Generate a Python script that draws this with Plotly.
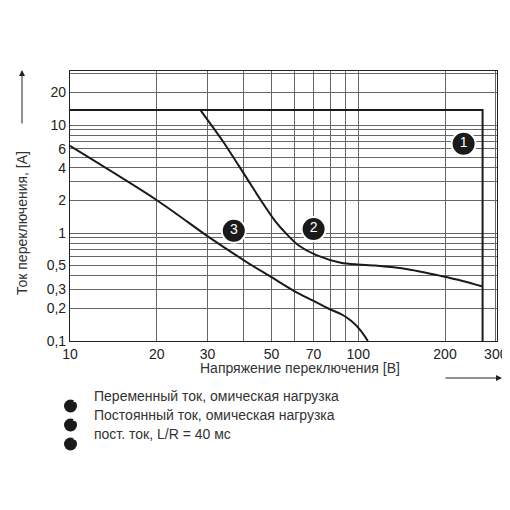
import plotly.graph_objects as go

# Data
c1_v = [10, 270, 270]
c1_i = [13.8, 13.8, 0.1]
c2_v = [28.3, 34, 40.5, 46, 51.5, 57, 62, 72, 87, 100, 114.5, 150, 194, 230, 270]
c2_i = [13.8, 7.0, 3.4, 2.0, 1.29, 0.95, 0.77, 0.62, 0.53, 0.51, 0.50, 0.46, 0.40, 0.36, 0.32]
c3_v = [10, 20.2, 30.6, 40.5, 50, 60, 70, 78.7, 88, 94.7, 102, 108]
c3_i = [6.4, 1.98, 0.9, 0.55, 0.39, 0.29, 0.235, 0.2, 0.175, 0.153, 0.125, 0.1]
badge_v = [232, 70, 37]
badge_i = [6.7, 1.09, 1.05]
badge_txt = ["1", "2", "3"]
x_grid = [10, 20, 30, 40, 50, 60, 70, 80, 90, 100, 200, 300]
x_lab = {10: "10", 20: "20", 30: "30", 50: "50", 70: "70", 100: "100", 200: "200", 300: "300"}
y_grid = [0.1, 0.2, 0.3, 0.4, 0.5, 0.6, 0.7, 0.8, 0.9, 1, 2, 3, 4, 5, 6, 7, 8, 9, 10, 20, 30]
y_lab = {0.1: "0,1", 0.2: "0,2", 0.3: "0,3", 0.5: "0,5", 1: "1", 2: "2", 4: "4", 6: "6", 10: "10", 20: "20"}
legend_items = ["Переменный ток, омическая нагрузка",
                "Постоянный ток, омическая нагрузка",
                "пост. ток, L/R = 40 мс"]

FONT = "Liberation Sans"
fig = go.Figure()
for v, i in [(c1_v, c1_i), (c2_v, c2_i), (c3_v, c3_i)]:
    fig.add_trace(go.Scatter(x=v, y=i, mode="lines", line=dict(color="#1a1a1a", width=2, shape="spline" if len(v) > 3 else "linear", smoothing=0.8), hoverinfo="skip"))
fig.add_trace(go.Scatter(x=badge_v, y=badge_i, mode="markers+text", text=badge_txt,
                         marker=dict(size=24, color="#1a1a1a", line=dict(color="white", width=2)),
                         textfont=dict(color="white", size=14, family=FONT), textposition="middle center"))

fig.update_layout(
    width=510, height=510, showlegend=False, plot_bgcolor="white", paper_bgcolor="white",
    margin=dict(l=62, r=21, t=63, b=177),
    font=dict(family=FONT, color="#222"),
    xaxis=dict(type="log", range=[1, 2.4814], tickvals=x_grid, ticktext=[x_lab.get(v, "") for v in x_grid],
               showgrid=True, gridcolor="#666", gridwidth=0.8, showline=True, linecolor="#222", mirror=True,
               linewidth=1.2, ticks="", tickfont=dict(size=14, family=FONT, color="#222"), zeroline=False,
               automargin=False),
    yaxis=dict(type="log", range=[-1, 1.5], tickvals=y_grid, ticktext=[y_lab.get(v, "") for v in y_grid],
               showgrid=True, gridcolor="#666", gridwidth=0.8, showline=True, linecolor="#222", mirror=True,
               linewidth=1.2, ticks="", tickfont=dict(size=14, family=FONT, color="#222"), zeroline=False,
               automargin=False),
)

def px(x): return (x - 62) / 427
def py(y): return (333 - y) / 270

ann = []
ann.append(dict(xref="paper", yref="paper", x=px(14), y=py(215), text="Ток переключения, [A]", textangle=-90,
                showarrow=False, font=dict(size=14, family=FONT, color="#333"), xanchor="center", yanchor="middle"))
ann.append(dict(xref="paper", yref="paper", x=px(14), y=py(62), ax=0, ay=55, showarrow=True,
                arrowhead=2, arrowsize=1.2, arrowwidth=1, arrowcolor="#222", text=""))
ann.append(dict(xref="paper", yref="paper", x=px(292), y=py(370), text="Напряжение переключения [B]",
                showarrow=False, font=dict(size=14, family=FONT, color="#333")))
ann.append(dict(xref="paper", yref="paper", x=px(494), y=py(370), ax=-58, ay=0, showarrow=True,
                arrowhead=2, arrowsize=1.2, arrowwidth=1, arrowcolor="#222", text=""))
shapes = []
for k, t in enumerate(legend_items):
    yc = 398 + k * 19
    shapes.append(dict(type="circle", xref="paper", yref="paper", x0=px(56), x1=px(69), y0=py(yc + 6.5), y1=py(yc - 6.5),
                       fillcolor="#1a1a1a", line=dict(width=0), layer="below"))
    ann.append(dict(xref="paper", yref="paper", x=px(62.5), y=py(yc), text="<b>%d</b>" % (k + 1), showarrow=False,
                    font=dict(size=9, color="white", family=FONT)))
    ann.append(dict(xref="paper", yref="paper", x=px(84), y=py(yc), text=t, showarrow=False, xanchor="left",
                    font=dict(size=14, family=FONT, color="#333")))
fig.update_layout(annotations=ann, shapes=shapes)
fig.write_html("out.html")
